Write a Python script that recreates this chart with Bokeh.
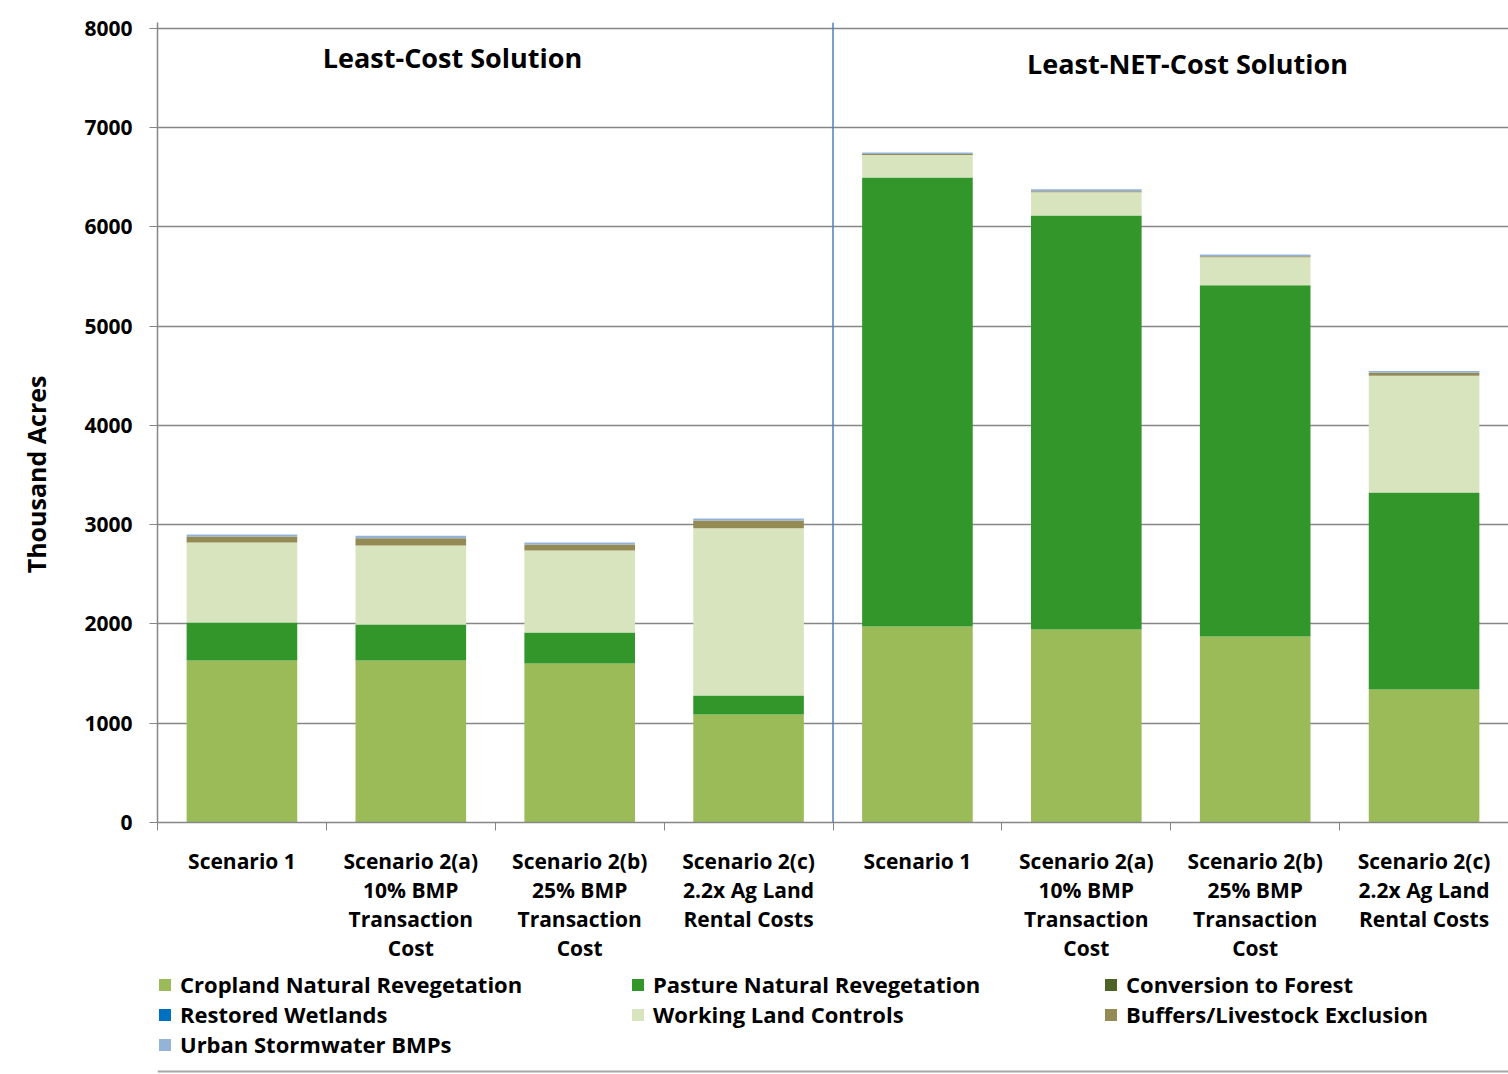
from bokeh.plotting import figure
from bokeh.layouts import column
from bokeh.models import ColumnDataSource, FixedTicker, Legend, LegendItem, Label, Span
from bokeh.embed import file_html
from bokeh.resources import INLINE

# ---- data ----
groups = ["Least-Cost Solution", "Least-NET-Cost Solution"]
scenarios = ["Scenario 1", "Scenario 2(a)\n10% BMP\nTransaction\nCost",
             "Scenario 2(b)\n25% BMP\nTransaction\nCost", "Scenario 2(c)\n2.2x Ag Land\nRental Costs",
             "Scenario 1", "Scenario 2(a)\n10% BMP\nTransaction\nCost",
             "Scenario 2(b)\n25% BMP\nTransaction\nCost", "Scenario 2(c)\n2.2x Ag Land\nRental Costs"]
cropland = [1632, 1632, 1602, 1088, 1975, 1945, 1874, 1340]
pasture = [383, 363, 312, 192, 4524, 4171, 3540, 1985]
forest = [0, 0, 0, 0, 0, 0, 0, 0]
wetlands = [0, 0, 0, 0, 0, 0, 0, 0]
working_land = [806, 796, 827, 1685, 225, 234, 282, 1176]
buffers = [61, 73, 60, 78, 12, 10, 8, 29]
urban = [20, 24, 20, 20, 15, 20, 19, 19]
y_ticks = [0, 1000, 2000, 3000, 4000, 5000, 6000, 7000, 8000]

series_names = ["Cropland Natural Revegetation", "Pasture Natural Revegetation", "Conversion to Forest",
                "Restored Wetlands", "Working Land Controls", "Buffers/Livestock Exclusion",
                "Urban Stormwater BMPs"]
series_keys = ["cropland", "pasture", "forest", "wetlands", "working_land", "buffers", "urban"]
colors = ["#9BBB59", "#33962A", "#4F6228", "#0070C0", "#D8E4BD", "#948A54", "#95B3D7"]

FONT = "Open Sans"
W = 1508
xpos = [i + 0.5 for i in range(len(scenarios))]
src = ColumnDataSource(dict(x=xpos, cropland=cropland, pasture=pasture, forest=forest,
                            wetlands=wetlands, working_land=working_land, buffers=buffers, urban=urban))

p = figure(width=W, height=966, x_range=(0, 8), y_range=(0, 8060),
           output_backend="svg", toolbar_location=None,
           min_border_left=157, min_border_right=0, min_border_top=22, min_border_bottom=144)
p.outline_line_color = None

renderers = p.vbar_stack(series_keys, x="x", width=0.655, source=src, color=colors, line_color=None)

# axes
p.xaxis.ticker = FixedTicker(ticks=xpos, minor_ticks=list(range(0, 9)))
p.xaxis.major_label_overrides = {x: s for x, s in zip(xpos, scenarios)}
p.xaxis.major_tick_out = 0
p.xaxis.major_tick_in = 0
p.xaxis.minor_tick_out = 8
p.xaxis.minor_tick_in = 0
p.xaxis.minor_tick_line_color = "#868686"
p.xaxis.axis_line_color = "#868686"
p.xaxis.axis_line_width = 1.5
p.xaxis.major_label_text_font = FONT
p.xaxis.major_label_text_font_style = "bold"
p.xaxis.major_label_text_font_size = "21px"
p.xaxis.major_label_text_line_height = 1.04
p.xaxis.major_label_standoff = 16
p.xaxis.major_label_text_color = "#000000"
p.xgrid.grid_line_color = None

p.yaxis.ticker = FixedTicker(ticks=y_ticks)
p.yaxis.major_tick_out = 8
p.yaxis.major_tick_in = 0
p.yaxis.minor_tick_line_color = None
p.yaxis.axis_line_color = "#868686"
p.yaxis.axis_line_width = 1.5
p.yaxis.major_tick_line_color = "#868686"
p.yaxis.major_label_text_font = FONT
p.yaxis.major_label_text_font_style = "bold"
p.yaxis.major_label_text_font_size = "21px"
p.yaxis.major_label_text_color = "#000000"
p.yaxis.major_label_standoff = 17
p.yaxis.axis_label = "Thousand Acres" + "\u00a0" * 16
p.yaxis.axis_label_text_font = FONT
p.yaxis.axis_label_text_font_style = "bold"
p.yaxis.axis_label_text_font_size = "25px"
p.yaxis.axis_label_text_color = "#000000"
p.yaxis.axis_label_standoff = 28
p.ygrid.grid_line_color = "#868686"
p.ygrid.grid_line_width = 1.5

# separator between solutions
p.add_layout(Span(location=4, dimension="height", line_color="#4F81BD", line_width=1.5))

# group titles
for gx, gy, g in zip([1.747, 6.099], [7707, 7647], groups):
    p.add_layout(Label(x=gx, y=gy, text=g, text_align="center", text_baseline="middle",
                       text_font=FONT, text_font_style="bold", text_font_size="27px",
                       text_color="#000000"))

# legend strip
lg = figure(width=W, height=108, x_range=(0, 1), y_range=(0, 108), output_backend="svg",
            toolbar_location=None, x_axis_location=None, y_axis_location=None,
            min_border_left=0, min_border_right=0, min_border_top=0, min_border_bottom=0)
lg.outline_line_color = None
lg.grid.grid_line_color = None
dummy = ColumnDataSource(dict(x=[-10], top=[-10]))
lrs = [lg.vbar(x="x", top="top", bottom=-20, width=0.1, source=dummy, color=c, line_color=None)
       for c in colors]
items = [LegendItem(label=n, renderers=[r]) for n, r in zip(series_names, lrs)]
legend = Legend(items=items, ncols=3, orientation="horizontal", location=(0, 15),
                label_text_font=FONT, label_text_font_style="bold", label_text_font_size="22px",
                label_text_color="#000000", glyph_width=15, glyph_height=15, label_standoff=8,
                label_width=450, label_height=26, spacing=0, padding=0, margin=0,
                border_line_color=None, background_fill_alpha=0)
lg.add_layout(legend)
lg.add_layout(Span(location=3, dimension="width", line_color="#A6A6A6", line_width=2))

layout = column(p, lg, spacing=0)
open("out.html", "w").write(file_html(layout, INLINE))
